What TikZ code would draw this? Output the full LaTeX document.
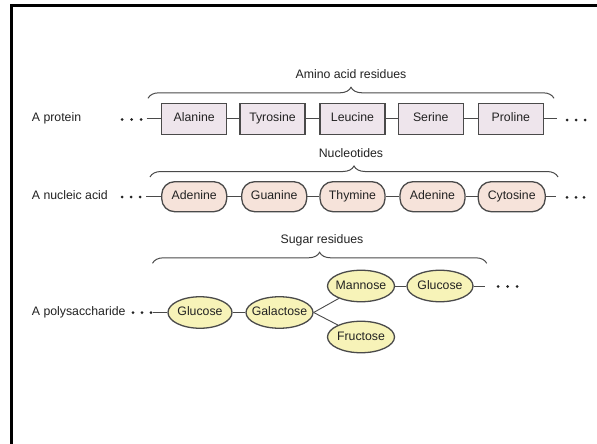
\documentclass[tikz,border=0pt]{standalone}
\usepackage{fontspec}
\setmainfont{Liberation Sans}
\usetikzlibrary{shapes.geometric,decorations.pathreplacing}
\definecolor{protfill}{HTML}{EEE5EC}
\definecolor{nucfill}{HTML}{F6E3DA}
\definecolor{sugfill}{HTML}{F7F3B8}
\definecolor{edgegray}{HTML}{4A4A4A}
\definecolor{ink}{HTML}{222222}
\begin{document}
\begin{tikzpicture}[x=1pt,y=-1pt,
  font=\fontsize{12.3}{15}\selectfont,
  every node/.style={text height=8.8pt, text depth=2.6pt},
  aa/.style={draw=edgegray, line width=1.3pt, fill=protfill, text=ink,
    minimum width=65pt, minimum height=31pt, inner sep=0pt},
  nuc/.style={draw=edgegray, line width=1.3pt, fill=nucfill, text=ink,
    rounded corners=13pt, minimum width=65pt, minimum height=30pt, inner sep=0pt},
  sug/.style={ellipse, draw=edgegray, line width=1.3pt, fill=sugfill, text=ink,
    minimum width=66pt, minimum height=31.5pt, inner xsep=-6pt, inner ysep=0pt},
  link/.style={draw=edgegray, line width=0.9pt},
  brc/.style={draw=edgegray, line width=1pt, decorate,
    decoration={brace, amplitude=11pt, aspect=0.5}},
  lab/.style={anchor=west, inner sep=0pt, text=ink},
  ttl/.style={inner sep=0pt, text=ink},
  dotc/.style={fill=ink}]

\useasboundingbox (0,0) rectangle (597,444);
\fill[white] (0,0) rectangle (597,444);
\draw[line width=2.6pt, black] (11.5,444) -- (11.5,5.3) -- (597,5.3);

% ---------- protein ----------
\node[ttl] (t1) at (351,75) {Amino acid residues};
\draw[brc] (148,98.3) -- (554,98.3);
\node[lab] (l1) at (31.7,118.7) {A protein};
\node[aa] (ala) at (194.2,118.7) {Alanine};
\node[aa] (tyr) at (272.5,118.7) {Tyrosine};
\node[aa] (leu) at (352.5,118.7) {Leucine};
\node[aa] (ser) at (430.8,118.7) {Serine};
\node[aa] (pro) at (510.8,118.7) {Proline};
\coordinate (p0) at (146.7,118.7);
\coordinate (p1) at (556.7,118.7);
\draw[link] (p0) -- (ala);
\draw[link] (ala) -- (tyr);
\draw[link] (tyr) -- (leu);
\draw[link] (leu) -- (ser);
\draw[link] (ser) -- (pro);
\draw[link] (pro) -- (p1);
\foreach \x in {122,131.5,141} \fill[dotc] (\x,119.5) circle (1.5pt);
\foreach \x in {567,576,585} \fill[dotc] (\x,120) circle (1.5pt);

% ---------- nucleic acid ----------
\node[ttl] (t2) at (351,154.5) {Nucleotides};
\draw[brc] (150,177) -- (558,177);
\node[lab] (l2) at (31.7,196.7) {A nucleic acid};
\node[nuc] (ade1) at (194.2,196.7) {Adenine};
\node[nuc] (gua) at (274.2,196.7) {Guanine};
\node[nuc] (thy) at (352.5,196.7) {Thymine};
\node[nuc] (ade2) at (432.5,196.7) {Adenine};
\node[nuc, minimum width=67pt] (cyt) at (511.7,196.7) {Cytosine};
\coordinate (n0) at (146,196.7);
\coordinate (n1) at (556,196.7);
\draw[link] (n0) -- (ade1);
\draw[link] (ade1) -- (gua);
\draw[link] (gua) -- (thy);
\draw[link] (thy) -- (ade2);
\draw[link] (ade2) -- (cyt);
\draw[link] (cyt) -- (n1);
\foreach \x in {122,131,140} \fill[dotc] (\x,197) circle (1.5pt);
\foreach \x in {567,576,584} \fill[dotc] (\x,197.3) circle (1.5pt);

% ---------- polysaccharide ----------
\node[ttl] (t3) at (322,240) {Sugar residues};
\draw[brc] (152.5,263.3) -- (486.7,263.3);
\node[lab] (l3) at (31.7,312.5) {A polysaccharide};
\node[sug, minimum width=64pt] (glc1) at (200,312.5) {Glucose};
\node[sug, minimum width=67pt] (gal) at (279.5,312.5) {Galactose};
\node[sug, minimum width=67pt] (man) at (361,286) {Mannose};
\node[sug] (glc2) at (440,286) {Glucose};
\node[sug, minimum width=67pt] (fru) at (361,337) {Fructose};
\coordinate (s0) at (153.3,312.5);
\coordinate (s1) at (485,286);
\draw[link] (s0) -- (glc1);
\draw[link] (glc1) -- (gal);
\draw[link] (gal.east) -- (man);
\draw[link] (gal.east) -- (fru);
\draw[link] (man) -- (glc2);
\draw[link] (glc2) -- (s1);
\foreach \x in {133,142,151} \fill[dotc] (\x,312.5) circle (1.5pt);
\foreach \x in {498,507.5,517} \fill[dotc] (\x,286.5) circle (1.5pt);
\end{tikzpicture}
\end{document}
